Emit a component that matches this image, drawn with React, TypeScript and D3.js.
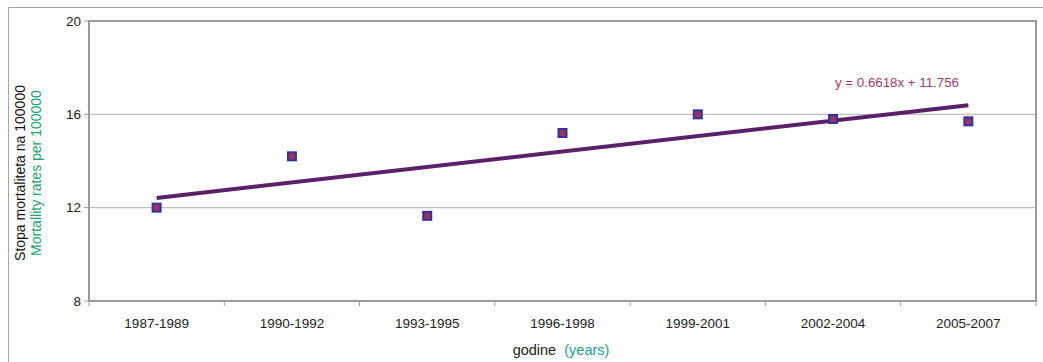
import React from "react";
import * as d3 from "d3";

// Mortality rate per 100000, three-year periods
const periods = ["1987-1989", "1990-1992", "1993-1995", "1996-1998", "1999-2001", "2002-2004", "2005-2007"];
const rates = [12.0, 14.2, 11.65, 15.2, 16.0, 15.8, 15.7];
const yTicks = [8, 12, 16, 20];
// Linear trend: y = slope * x + intercept, x = 1..n
const trendSlope = 0.6618;
const trendIntercept = 11.756;

const W = 1043;
const H = 362;
const plot = { left: 89, top: 21, right: 1036, bottom: 301 };
const FONT = "'Liberation Sans', Arial, sans-serif";

export default function App() {
  const x = d3.scaleBand<string>().domain(periods).range([plot.left, plot.right]);
  const y = d3.scaleLinear().domain([8, 20]).range([plot.bottom, plot.top]);
  const cx = (i: number) => (x(periods[i]) as number) + x.bandwidth() / 2;

  const trendPts: [number, number][] = [
    [cx(0), y(trendSlope * 1 + trendIntercept)],
    [cx(periods.length - 1), y(trendSlope * periods.length + trendIntercept)],
  ];
  const line = d3.line();

  const bounds = periods.map((p) => x(p) as number).concat([plot.right]);

  return (
    <svg
      width={W}
      height={H}
      style={{ position: "absolute", left: 0, top: 0, background: "#fff" }}
      fontFamily={FONT}
    >
      {/* outer frame */}
      <path d={`M8.5,${H} V7.5 H${W}`} fill="none" stroke="#a6a6a6" strokeWidth={1} />

      {/* gridlines */}
      {yTicks
        .filter((t) => t !== 8 && t !== 20)
        .map((t) => (
          <line key={t} x1={plot.left} x2={plot.right} y1={y(t)} y2={y(t)} stroke="#c0c0c0" strokeWidth={1.2} />
        ))}

      {/* plot border */}
      <rect
        x={plot.left}
        y={plot.top}
        width={plot.right - plot.left}
        height={plot.bottom - plot.top}
        fill="none"
        stroke="#9a9a9a"
        strokeWidth={2}
      />

      {/* y ticks and labels */}
      {yTicks.map((t) => (
        <g key={t}>
          <line x1={plot.left - 5} x2={plot.left} y1={y(t)} y2={y(t)} stroke="#9a9a9a" strokeWidth={1} />
          <text x={plot.left - 8} y={y(t)} dy="0.35em" textAnchor="end" fontSize={13.5} fill="#222">
            {t}
          </text>
        </g>
      ))}

      {/* x ticks and labels */}
      {bounds.map((b, i) => (
        <line key={i} x1={b} x2={b} y1={plot.bottom} y2={plot.bottom + 5} stroke="#9a9a9a" strokeWidth={1} />
      ))}
      {periods.map((p, i) => (
        <text key={p} x={cx(i)} y={328} textAnchor="middle" fontSize={13.5} fill="#222">
          {p}
        </text>
      ))}

      {/* trend line */}
      <path d={line(trendPts) as string} stroke="#5c2068" strokeWidth={4} fill="none" />

      {/* data markers */}
      {rates.map((v, i) => (
        <rect
          key={i}
          x={cx(i) - 4}
          y={y(v) - 4}
          width={8}
          height={8}
          fill="#993366"
          stroke="#333399"
          strokeWidth={2}
        />
      ))}

      {/* trend equation */}
      <text x={897} y={87} textAnchor="middle" fontSize={13.3} fill="#9a3d6e">
        {`y = ${trendSlope}x + ${trendIntercept}`}
      </text>

      {/* axis titles */}
      <text x={561} y={355} textAnchor="middle" fontSize={14.5} xmlSpace="preserve">
        <tspan fill="#222">godine</tspan>
        <tspan fill="#25a08c">{"  (years)"}</tspan>
      </text>
      <text transform="translate(25,173) rotate(-90)" textAnchor="middle" fontSize={14} fill="#111">
        Stopa mortaliteta na 100000
      </text>
      <text transform="translate(41,173) rotate(-90)" textAnchor="middle" fontSize={14} fill="#1fa071">
        Mortallity rates per 100000
      </text>
    </svg>
  );
}
